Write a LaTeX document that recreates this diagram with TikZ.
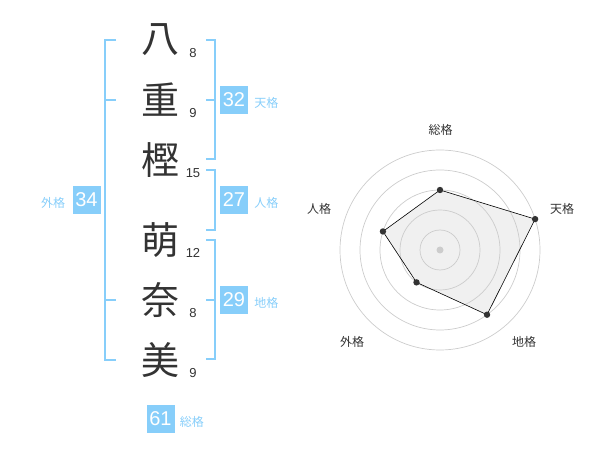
\documentclass[tikz,border=0pt]{standalone}
\usepackage{fontspec}
\setmainfont{Liberation Sans}
\newfontfamily\jp{Noto Sans CJK JP}
\usetikzlibrary{positioning}
\definecolor{kaku}{HTML}{87CEFA}
\definecolor{ink}{HTML}{333333}

\begin{document}
\begin{tikzpicture}[x=1pt,y=-1pt,
  kanji/.style={font=\jp\fontsize{38}{38}\selectfont,text=ink,inner sep=0pt},
  strokes/.style={font=\fontsize{13}{13}\selectfont,text=ink,inner sep=0pt},
  score/.style={fill=kaku,text=white,minimum size=28pt,inner sep=0pt,font=\fontsize{20}{20}\selectfont},
  kname/.style={text=kaku,font=\jp\fontsize{12}{12}\selectfont,inner sep=0pt},
  bracket/.style={draw=kaku,line width=1.8pt},
  ring/.style={draw=black!20,line width=0.7pt},
  axis name/.style={font=\jp\fontsize{12}{12}\selectfont,text=ink,inner sep=0pt}]

  \useasboundingbox (0,0) rectangle (600,470);

  % name and stroke counts
  \foreach \ch/\n/\y [count=\i] in {八/8/40, 重/9/100, 樫/15/160, 萌/12/240, 奈/8/300, 美/9/360} {
    \node[kanji] (c\i) at (160,\y) {\ch};
    \node[strokes] (n\i) at (193,\y+13) {\n};
  }

  % brackets
  \draw[bracket] (116,40) -| (105,360) -- (116,360);
  \draw[bracket] (105,100) -- (116,100) (105,300) -- (116,300);
  \draw[bracket] (206,40) -| (215,159) -- (206,159) (206,100) -- (215,100);
  \draw[bracket] (206,170) -| (215,230) -- (206,230);
  \draw[bracket] (206,240) -| (215,359) -- (206,359) (206,300) -- (215,300);

  % scores
  \node[score] (gai) at (86.5,200) {34};
  \node[score] (ten) at (234,100) {32};
  \node[score] (jin) at (234,200) {27};
  \node[score] (chi) at (234,300) {29};
  \node[score] (sou) at (160.5,419) {61};
  \node[kname,left=7pt of gai,yshift=-3pt] {外格};
  \node[kname,right=6pt of ten,yshift=-3pt] {天格};
  \node[kname,right=6pt of jin,yshift=-3pt] {人格};
  \node[kname,right=6pt of chi,yshift=-3pt] {地格};
  \node[kname,right=5pt of sou,yshift=-3pt] {総格};

  % radar chart
  \begin{scope}[shift={(440,250)},y=1pt]
    \foreach \ang/\val [count=\i] in {90/60, 18/100, -54/80, -126/40, 162/60}
      \coordinate (p\i) at (\ang:\val);
    \fill[black!6] (p1) -- (p2) -- (p3) -- (p4) -- (p5) -- cycle;
    \foreach \r in {20,40,60,80,100}
      \draw[ring] (0,0) circle (\r);
    \fill[black!20] (0,0) circle (3.5);
    \draw[line width=0.6pt] (p1) -- (p2) -- (p3) -- (p4) -- (p5) -- cycle;
    \foreach \i in {1,...,5}
      \fill[ink] (p\i) circle (3.2);
    \node[axis name] (a1) at (0.7,120) {総格};
    \node[axis name] (a2) at (122,41) {天格};
    \node[axis name] (a3) at (84,-92) {地格};
    \node[axis name] (a4) at (-88,-92) {外格};
    \node[axis name] (a5) at (-121,41) {人格};
  \end{scope}

\end{tikzpicture}
\end{document}
